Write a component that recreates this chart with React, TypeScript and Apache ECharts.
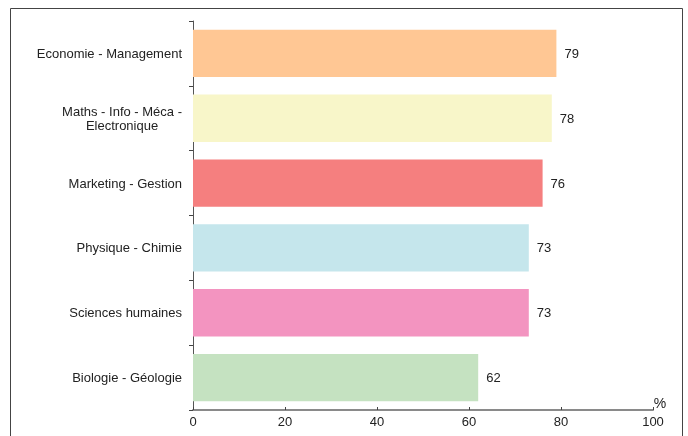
import React, { useEffect, useRef } from "react";
import * as echarts from "echarts";

const categories = [
  "Economie - Management",
  "Maths - Info - Méca -\nElectronique",
  "Marketing - Gestion",
  "Physique - Chimie",
  "Sciences humaines",
  "Biologie - Géologie",
];
const values = [79, 78, 76, 73, 73, 62];
const barColors = ["#FFC794", "#F8F6C9", "#F57F7F", "#C5E6EC", "#F394C0", "#C5E2C1"];
const axisUnit = "%";

export default function App() {
  const ref = useRef<HTMLDivElement>(null);
  useEffect(() => {
    document.body.style.margin = "0";
    const chart = echarts.init(ref.current!, null, { renderer: "svg" });
    const cats = [...categories].reverse();
    const vals = [...values].reverse();
    const cols = [...barColors].reverse();
    chart.setOption({
      animation: false,
      textStyle: { fontFamily: "Liberation Sans, Arial, sans-serif" },
      grid: { left: 193, right: 35, top: 21, bottom: 26, containLabel: false },
      graphic: [
        {
          type: "rect",
          shape: { x: 10.5, y: 8.5, width: 672, height: 440 },
          style: { fill: "none", stroke: "#444", lineWidth: 1 },
          silent: true,
        },
        {
          type: "text",
          x: 660,
          y: 410,
          style: { text: axisUnit, fill: "#222", font: "14px Liberation Sans, Arial, sans-serif", textAlign: "center", textVerticalAlign: "bottom" },
        },
      ],
      xAxis: {
        type: "value",
        min: 0,
        max: 100,
        interval: 20,
        splitLine: { show: false },
        axisLine: { show: true, lineStyle: { color: "#8a8a8a", width: 2 } },
        axisTick: { show: true, inside: true, length: 3, lineStyle: { color: "#444" } },
        axisLabel: { color: "#222", fontSize: 13, margin: 5 },
      },
      yAxis: {
        type: "category",
        data: cats,
        axisLine: { show: true, lineStyle: { color: "#555", width: 1 } },
        axisTick: { show: true, length: 4, lineStyle: { color: "#444" } },
        axisLabel: {
          color: "#222",
          fontSize: 13,
          margin: 11,
          formatter: (v: string) =>
            v.split("\n").map((l) => "{c|" + l + "}").join("\n"),
          rich: { c: { align: "center", fontSize: 13, color: "#222", lineHeight: 14 } },
        },
      },
      series: [
        {
          type: "bar",
          data: vals.map((v, i) => ({ value: v, itemStyle: { color: cols[i] } })),
          barCategoryGap: "27%",
          label: {
            show: true,
            position: "right",
            distance: 8,
            color: "#222",
            fontSize: 13,
          },
        },
      ],
    });
    return () => chart.dispose();
  }, []);
  return <div ref={ref} style={{ position: "fixed", left: 0, top: 0, width: 688, height: 436 }} />;
}
